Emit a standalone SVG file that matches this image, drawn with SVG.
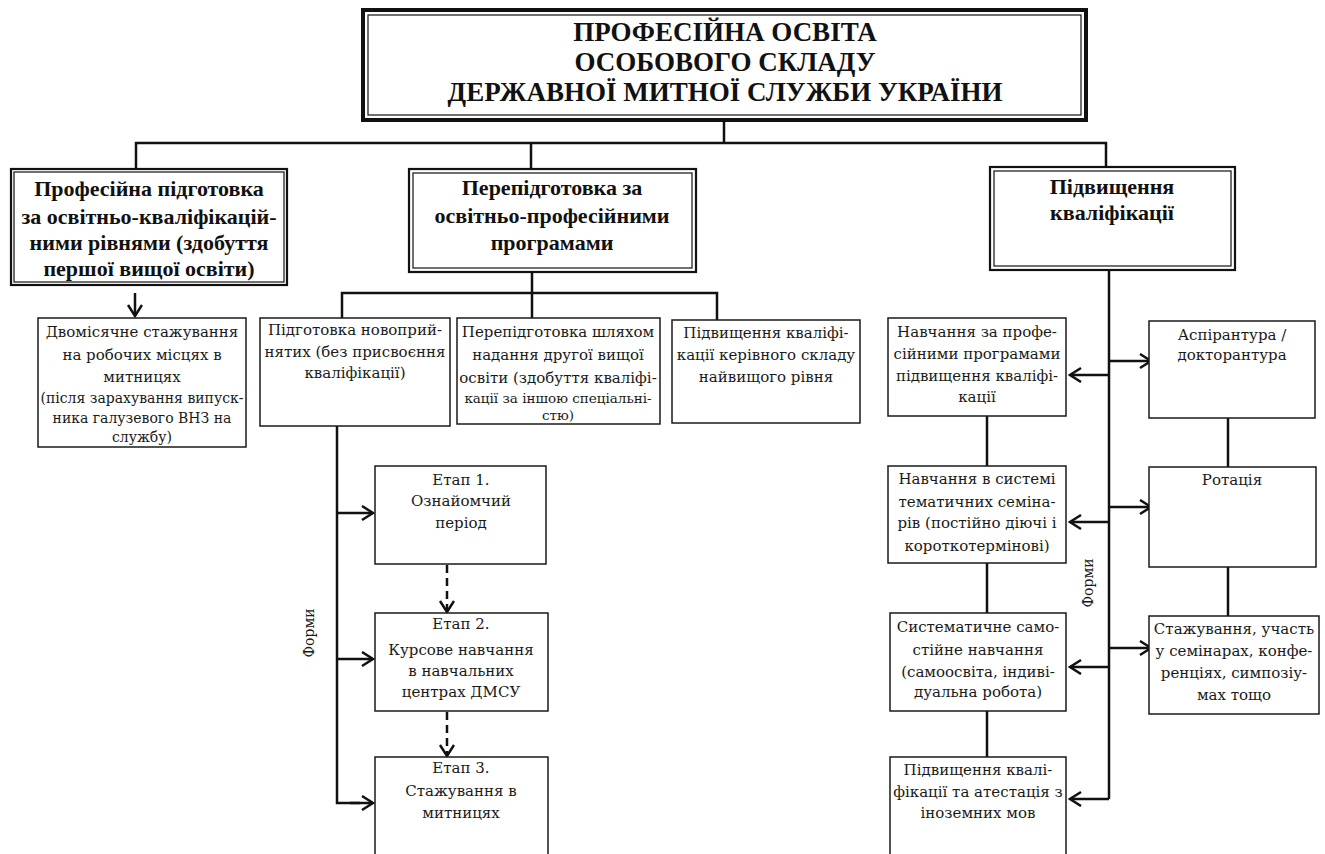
<svg xmlns="http://www.w3.org/2000/svg" width="1325" height="854" viewBox="0 0 1325 854">
<style>
.bx{fill:#fff;stroke:#1a1a1a;stroke-width:1.5}
.ob{fill:#fff;stroke:#111;stroke-width:2.2}
.ib{fill:none;stroke:#111;stroke-width:1.2}
.c{fill:none;stroke:#111;stroke-width:2.5}
.d{fill:none;stroke:#111;stroke-width:2.5;stroke-dasharray:8 5}
.h{font-family:"Liberation Serif","Times New Roman",serif;font-weight:bold;font-size:22px;text-anchor:middle;fill:#111}
.tt{font-family:"Liberation Serif","Times New Roman",serif;font-weight:bold;font-size:27px;text-anchor:middle;fill:#111}
.t{font-family:"DejaVu Serif",serif;font-size:15px;text-anchor:middle;fill:#1a1a1a}
.s{font-size:14px}
.s2{font-size:13.5px}
.f{font-family:"DejaVu Serif",serif;font-size:14px;text-anchor:middle;fill:#1a1a1a}
</style>
<defs>
<marker id="ar" markerUnits="userSpaceOnUse" markerWidth="16" markerHeight="18" refX="12" refY="8" orient="auto">
<path d="M1,1 L12,8 L1,15" fill="none" stroke="#111" stroke-width="2.5"/>
</marker>
</defs>
<rect width="1325" height="854" fill="#fff"/>

<g id="connectors">
<path class="c" d="M724,122 V143 M136,168 V143 H1106 V167 M531,143 V169"/>
<path class="c" d="M135,277 V285" />
<path class="c" d="M135,293 V316" marker-end="url(#ar)"/>
<path class="c" d="M532,272 V318 M342,318 V293 H717 V320"/>
<path class="c" d="M337,426 V803 H360"/>
<path class="c" d="M337,513 H373" marker-end="url(#ar)"/>
<path class="c" d="M337,659 H373" marker-end="url(#ar)"/>
<path class="c" d="M350,803 H373" marker-end="url(#ar)"/>
<path class="d" d="M447,565 V612" marker-end="url(#ar)"/>
<path class="d" d="M447,712 V756" marker-end="url(#ar)"/>
<path class="c" d="M1109,270 V799"/>
<path class="c" d="M1109,375 H1070" marker-end="url(#ar)"/>
<path class="c" d="M1109,522 H1070" marker-end="url(#ar)"/>
<path class="c" d="M1109,667 H1070" marker-end="url(#ar)"/>
<path class="c" d="M1109,799 H1070" marker-end="url(#ar)"/>
<path class="c" d="M1109,361 H1151" marker-end="url(#ar)"/>
<path class="c" d="M1109,507 H1151" marker-end="url(#ar)"/>
<path class="c" d="M1109,648 H1151" marker-end="url(#ar)"/>
<path class="c" d="M987,416 V466 M987,563 V613 M987,711 V757"/>
<path class="c" d="M1228,418 V467 M1228,567 V616"/>
<text class="f" transform="translate(314,633) rotate(-90)">Форми</text>
<text class="f" transform="translate(1093,583) rotate(-90)">Форми</text>
</g>

<g id="title">
<rect x="363" y="10" width="723" height="110" fill="#fff" stroke="#111" stroke-width="4"/>
<rect x="368" y="15" width="713" height="100" class="ib"/>
<text class="tt" x="725" y="41">ПРОФЕСІЙНА ОСВІТА</text>
<text class="tt" x="725" y="71">ОСОБОВОГО СКЛАДУ</text>
<text class="tt" x="725" y="101">ДЕРЖАВНОЇ МИТНОЇ СЛУЖБИ УКРАЇНИ</text>
</g>

<g id="n-prof">
<rect x="11" y="169" width="276" height="116" class="ob"/>
<rect x="14" y="172" width="270" height="110" class="ib"/>
<text class="h" x="149" y="196">Професійна підготовка</text>
<text class="h" x="149" y="224">за освітньо-кваліфікацій-</text>
<text class="h" x="149" y="250">ними рівнями (здобуття</text>
<text class="h" x="149" y="276">першої вищої освіти)</text>
</g>

<g id="n-perep">
<rect x="409" y="169" width="287" height="103" class="ob"/>
<rect x="413" y="173" width="279" height="95" class="ib"/>
<text class="h" x="552" y="195">Перепідготовка за</text>
<text class="h" x="552" y="223">освітньо-професійними</text>
<text class="h" x="552" y="250">програмами</text>
</g>

<g id="n-pidv">
<rect x="990" y="167" width="245" height="103" class="ob"/>
<rect x="994" y="171" width="237" height="95" class="ib"/>
<text class="h" x="1112" y="194">Підвищення</text>
<text class="h" x="1112" y="220">кваліфікації</text>
</g>

<g id="n-dvomis">
<rect x="38" y="318" width="208" height="129" class="bx"/>
<text class="t" x="142" y="337">Двомісячне стажування</text>
<text class="t" x="142" y="360">на робочих місцях в</text>
<text class="t" x="142" y="382">митницях</text>
<text class="t s" x="142" y="403">(після зарахування випуск-</text>
<text class="t s" x="142" y="423">ника галузевого ВНЗ на</text>
<text class="t s" x="142" y="442">службу)</text>
</g>

<g id="n-novopr">
<rect x="260" y="318" width="190" height="108" class="bx"/>
<text class="t" x="355" y="335">Підготовка новоприй-</text>
<text class="t" x="355" y="357">нятих (без присвоєння</text>
<text class="t" x="355" y="378">кваліфікації)</text>
</g>

<g id="n-druga">
<rect x="457" y="318" width="203" height="106" class="bx"/>
<text class="t" x="558" y="337">Перепідготовка шляхом</text>
<text class="t" x="558" y="360">надання другої вищої</text>
<text class="t" x="558" y="383">освіти (здобуття кваліфі-</text>
<text class="t s2" x="558" y="403">кації за іншою спеціальні-</text>
<text class="t s2" x="558" y="420">стю)</text>
</g>

<g id="n-kerivn">
<rect x="672" y="320" width="188" height="103" class="bx"/>
<text class="t" x="766" y="338">Підвищення кваліфі-</text>
<text class="t" x="766" y="360">кації керівного складу</text>
<text class="t" x="766" y="382">найвищого рівня</text>
</g>

<g id="n-etap1">
<rect x="375" y="466" width="171" height="98" class="bx"/>
<text class="t" x="461" y="485">Етап 1.</text>
<text class="t" x="461" y="506">Ознайомчий</text>
<text class="t" x="461" y="528">період</text>
</g>

<g id="n-etap2">
<rect x="375" y="613" width="173" height="98" class="bx"/>
<text class="t" x="461" y="629">Етап 2.</text>
<text class="t" x="461" y="655">Курсове навчання</text>
<text class="t" x="461" y="676">в навчальних</text>
<text class="t" x="461" y="697">центрах ДМСУ</text>
</g>

<g id="n-etap3">
<rect x="375" y="757" width="173" height="120" class="bx"/>
<text class="t" x="461" y="773">Етап 3.</text>
<text class="t" x="461" y="796">Стажування в</text>
<text class="t" x="461" y="818">митницях</text>
</g>

<g id="n-navch-prof">
<rect x="888" y="318" width="178" height="98" class="bx"/>
<text class="t" x="977" y="337">Навчання за профе-</text>
<text class="t" x="977" y="359">сійними програмами</text>
<text class="t" x="977" y="381">підвищення кваліфі-</text>
<text class="t" x="977" y="402">кації</text>
</g>

<g id="n-seminar">
<rect x="888" y="466" width="178" height="97" class="bx"/>
<text class="t" x="977" y="484">Навчання в системі</text>
<text class="t" x="977" y="507">тематичних семіна-</text>
<text class="t" x="977" y="528">рів (постійно діючі і</text>
<text class="t" x="977" y="551">короткотермінові)</text>
</g>

<g id="n-samo">
<rect x="890" y="613" width="176" height="98" class="bx"/>
<text class="t" x="978" y="632">Систематичне само-</text>
<text class="t" x="978" y="655">стійне навчання</text>
<text class="t" x="978" y="677">(самоосвіта, індиві-</text>
<text class="t" x="978" y="697">дуальна робота)</text>
</g>

<g id="n-inozem">
<rect x="890" y="757" width="176" height="120" class="bx"/>
<text class="t" x="978" y="775">Підвищення квалі-</text>
<text class="t" x="978" y="797">фікації та атестація з</text>
<text class="t" x="978" y="818">іноземних мов</text>
</g>

<g id="n-aspir">
<rect x="1149" y="321" width="166" height="97" class="bx"/>
<text class="t" x="1232" y="340">Аспірантура /</text>
<text class="t" x="1232" y="360">докторантура</text>
</g>

<g id="n-rotac">
<rect x="1149" y="467" width="167" height="100" class="bx"/>
<text class="t" x="1232" y="485">Ротація</text>
</g>

<g id="n-stazh">
<rect x="1149" y="616" width="170" height="98" class="bx"/>
<text class="t" x="1234" y="634">Стажування, участь</text>
<text class="t" x="1234" y="656">у семінарах, конфе-</text>
<text class="t" x="1234" y="678">ренціях, симпозіу-</text>
<text class="t" x="1234" y="700">мах тощо</text>
</g>
</svg>
